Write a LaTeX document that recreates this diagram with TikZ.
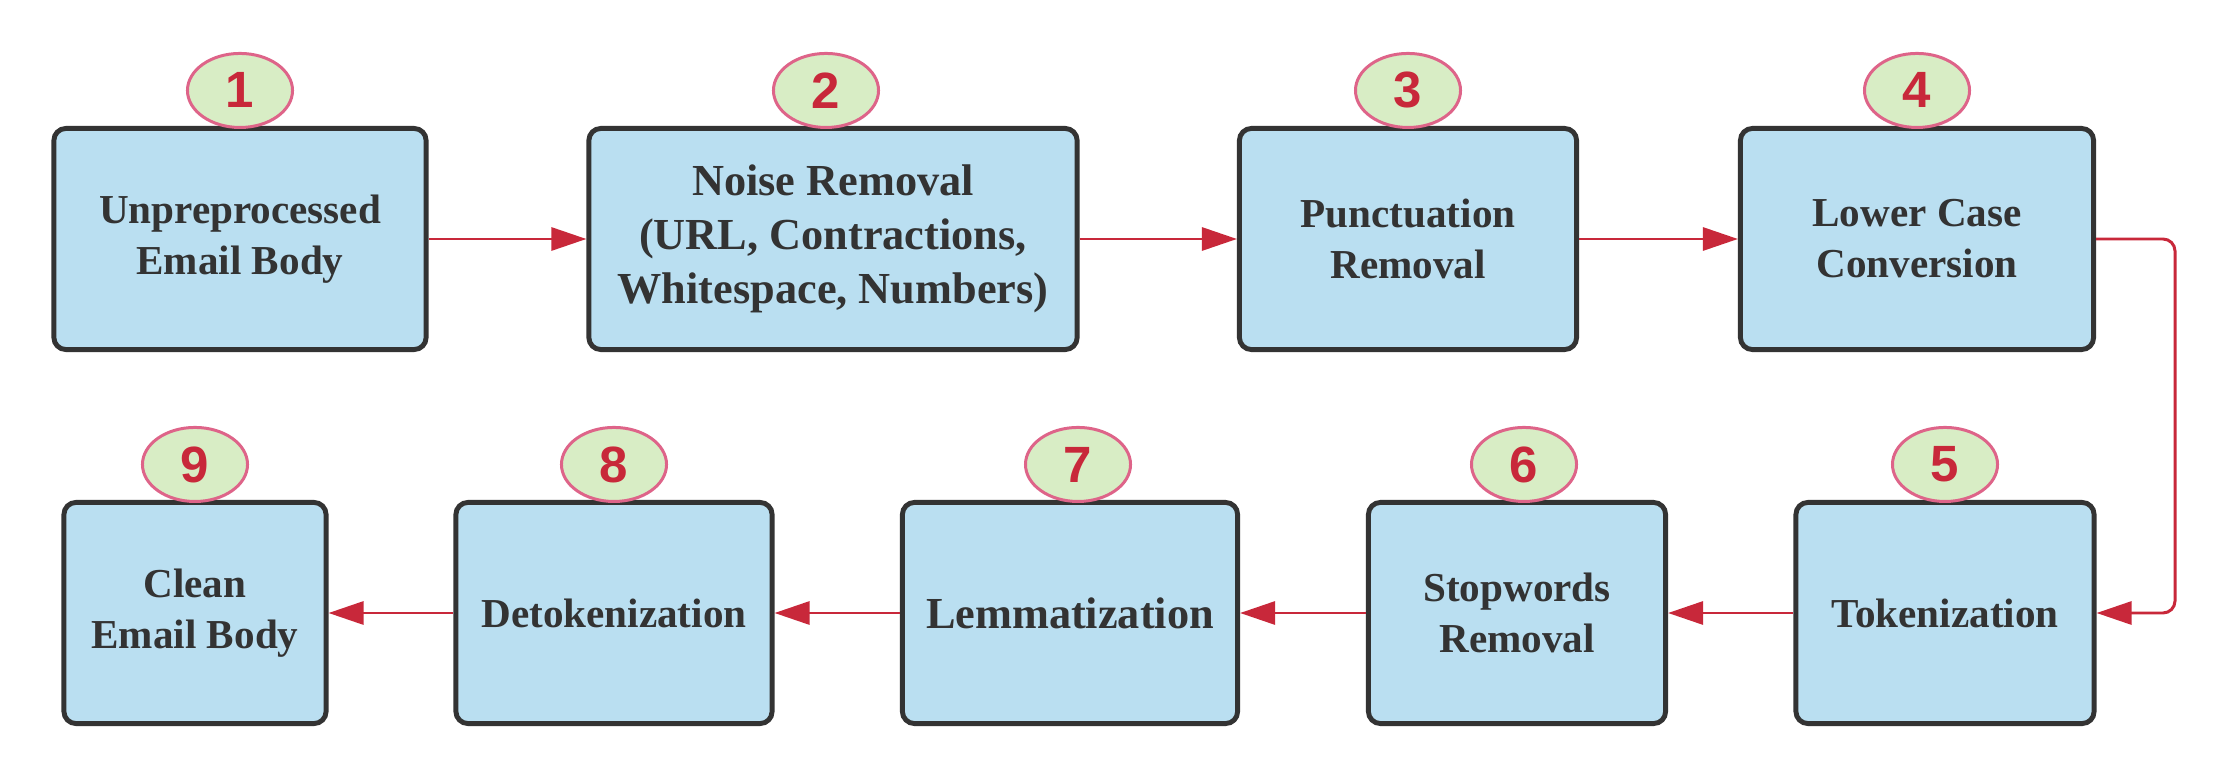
\documentclass[tikz,border=0pt]{standalone}
\usepackage{fontspec}
\setmainfont{Liberation Serif}
\newfontfamily\numfont{Liberation Sans}
\usetikzlibrary{arrows.meta,shapes.geometric}
\definecolor{boxblue}{HTML}{BADFF1}
\definecolor{badgegreen}{HTML}{D8EDC5}
\definecolor{badgepink}{HTML}{DE6489}
\definecolor{flowred}{HTML}{C8283A}
\definecolor{edgegray}{HTML}{333333}
\tikzset{
  stage/.style={draw=edgegray, line width=1.4pt, fill=boxblue, rounded corners=0.12cm,
    align=center, text=edgegray, inner sep=0pt, minimum height=2.21cm,
    font=\bfseries\fontsize{11.7}{14.5}\selectfont},
  bigstage/.style={stage, font=\bfseries\fontsize{12.6}{15.4}\selectfont},
  badge/.style={ellipse, draw=badgepink, line width=0.85pt, fill=badgegreen,
    minimum width=1.05cm, minimum height=0.74cm, inner sep=0pt, anchor=south,
    yshift=-0.03cm, text=flowred, font=\numfont\bfseries\fontsize{14.5}{14.5}\selectfont},
  flow/.style={draw=flowred, line width=0.85pt, -{Triangle[length=0.35cm,width=0.23cm]}}
}
\begin{document}
\begin{tikzpicture}[x=0.01cm,y=-0.01cm]
\useasboundingbox (0,0) rectangle (2224,782);
% top row
\node[stage, minimum width=3.72cm] (unprep) at (240,239) {Unpreprocessed\\Email Body};
\node[bigstage, minimum width=4.88cm] (noise) at (833,239) {Noise Removal\\(URL, Contractions,\\Whitespace, Numbers)};
\node[stage, minimum width=3.37cm] (punct) at (1408,239) {Punctuation\\Removal};
\node[stage, minimum width=3.53cm] (lower) at (1917,239) {Lower Case\\Conversion};
% bottom row
\node[stage, minimum width=2.98cm] (token) at (1945,613) {Tokenization};
\node[stage, minimum width=2.97cm] (stop) at (1517,613) {Stopwords\\Removal};
\node[bigstage, minimum width=3.35cm] (lemma) at (1070,613) {Lemmatization};
\node[stage, minimum width=3.16cm] (detok) at (614,613) {Detokenization};
\node[stage, minimum width=2.62cm] (clean) at (195,613) {Clean\\Email Body};
% step numbers
\node[badge] (n1) at (unprep.north) {1};
\node[badge, xshift=-0.07cm] (n2) at (noise.north) {2};
\node[badge] (n3) at (punct.north) {3};
\node[badge] (n4) at (lower.north) {4};
\node[badge] (n5) at (token.north) {5};
\node[badge, xshift=0.07cm] (n6) at (stop.north) {6};
\node[badge, xshift=0.08cm] (n7) at (lemma.north) {7};
\node[badge] (n8) at (detok.north) {8};
\node[badge] (n9) at (clean.north) {9};
% arrows
\coordinate (bend) at (2175,239);
\draw[flow] (unprep) -- (noise);
\draw[flow] (noise) -- (punct);
\draw[flow] (punct) -- (lower);
\draw[flow, rounded corners=0.12cm] (lower.east) -- (bend) |- (token.east);
\draw[flow] (token) -- (stop);
\draw[flow] (stop) -- (lemma);
\draw[flow] (lemma) -- (detok);
\draw[flow] (detok) -- (clean);
\end{tikzpicture}
\end{document}
